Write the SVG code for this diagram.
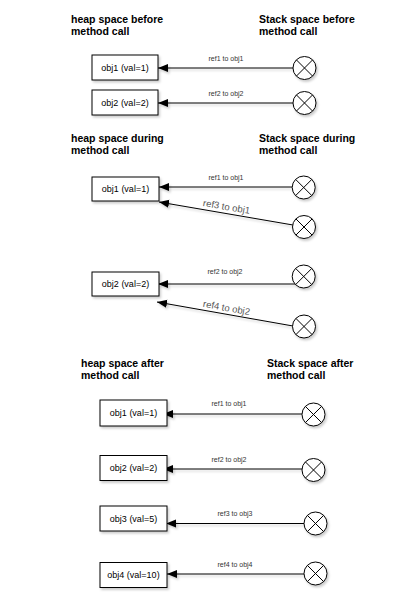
<svg xmlns="http://www.w3.org/2000/svg" width="414" height="600" viewBox="0 0 414 600">
<style>
.title{font-family:"Liberation Sans",Arial,sans-serif;font-size:10.5px;font-weight:bold;fill:#000}
.box rect{fill:#fff;stroke:#000;stroke-width:1}
.box text{font-family:"Liberation Sans",Arial,sans-serif;font-size:9px;fill:#000;text-anchor:middle}
.ref circle{fill:#fff;stroke:#000;stroke-width:1}
.ref path{stroke:#000;stroke-width:1;fill:none}
.conn line{stroke:#000;stroke-width:1;marker-end:url(#arr)}
.lbl{font-family:"Liberation Sans",Arial,sans-serif;font-size:7px;fill:#333;text-anchor:middle}
.rlbl{font-family:"Liberation Sans",Arial,sans-serif;font-size:9.5px;fill:#555;text-anchor:middle}
</style>
<defs>
<marker id="arr" markerUnits="userSpaceOnUse" markerWidth="11" markerHeight="9" refX="10" refY="4" orient="auto">
<path d="M0,0 L10,4 L0,8 z" fill="#000"/>
</marker>
<filter id="sh" x="-20%" y="-20%" width="140%" height="160%">
<feDropShadow dx="1.5" dy="2" stdDeviation="1" flood-color="#000" flood-opacity="0.2"/>
</filter>
</defs>

<!-- titles -->
<text class="title" x="71" y="23">heap space before</text>
<text class="title" x="71" y="35">method call</text>
<text class="title" x="259" y="23">Stack space before</text>
<text class="title" x="259" y="35">method call</text>

<text class="title" x="71" y="142">heap space during</text>
<text class="title" x="71" y="154">method call</text>
<text class="title" x="259" y="142">Stack space during</text>
<text class="title" x="259" y="154">method call</text>

<text class="title" x="81" y="367">heap space after</text>
<text class="title" x="81" y="379">method call</text>
<text class="title" x="267" y="367">Stack space after</text>
<text class="title" x="267" y="379">method call</text>

<!-- connectors -->
<g id="connectors" class="conn" filter="url(#sh)">
<line x1="293" y1="68" x2="158" y2="68"/>
<line x1="293" y1="103" x2="158" y2="103"/>
<line x1="292" y1="187" x2="159" y2="187"/>
<line x1="293" y1="225" x2="159" y2="202"/>
<line x1="295" y1="284" x2="158" y2="284"/>
<line x1="293" y1="326" x2="157" y2="302"/>
<line x1="302" y1="414" x2="163" y2="414"/>
<line x1="302" y1="469" x2="163" y2="469"/>
<line x1="304" y1="523.5" x2="166" y2="523.5"/>
<line x1="304" y1="574" x2="167" y2="574"/>
</g>
<g id="connector-labels">
<text class="lbl" x="226" y="61">ref1 to obj1</text>
<text class="lbl" x="226" y="96">ref2 to obj2</text>
<text class="lbl" x="226" y="180">ref1 to obj1</text>
<text class="rlbl" transform="translate(226,210) rotate(9.7)">ref3 to obj1</text>
<text class="lbl" x="225" y="274">ref2 to obj2</text>
<text class="rlbl" transform="translate(226,311) rotate(10)">ref4 to obj2</text>
<text class="lbl" x="229" y="406">ref1 to obj1</text>
<text class="lbl" x="229" y="462">ref2 to obj2</text>
<text class="lbl" x="235" y="516">ref3 to obj3</text>
<text class="lbl" x="235" y="567">ref4 to obj4</text>
</g>

<!-- heap object nodes -->
<g id="before-obj1" class="box"><rect x="92" y="55" width="66" height="25" filter="url(#sh)"/><text x="125" y="71">obj1 (val=1)</text></g>
<g id="before-obj2" class="box"><rect x="92" y="90" width="66" height="25" filter="url(#sh)"/><text x="125" y="106">obj2 (val=2)</text></g>
<g id="during-obj1" class="box"><rect x="92" y="177" width="67" height="24" filter="url(#sh)"/><text x="125.5" y="192">obj1 (val=1)</text></g>
<g id="during-obj2" class="box"><rect x="92" y="272" width="67" height="24" filter="url(#sh)"/><text x="125.5" y="287">obj2 (val=2)</text></g>
<g id="after-obj1" class="box"><rect x="100" y="400" width="67" height="26" filter="url(#sh)"/><text x="133.5" y="416">obj1 (val=1)</text></g>
<g id="after-obj2" class="box"><rect x="100" y="455.5" width="67" height="25" filter="url(#sh)"/><text x="133.5" y="471">obj2 (val=2)</text></g>
<g id="after-obj3" class="box"><rect x="100" y="506" width="67" height="25" filter="url(#sh)"/><text x="133.5" y="521.5">obj3 (val=5)</text></g>
<g id="after-obj4" class="box"><rect x="100" y="562.5" width="67" height="25" filter="url(#sh)"/><text x="133.5" y="578">obj4 (val=10)</text></g>

<!-- stack reference nodes -->
<g id="before-ref1" class="ref" transform="translate(304.5,68)"><circle r="11.5" filter="url(#sh)"/><path d="M-8.1,-8.1L8.1,8.1M8.1,-8.1L-8.1,8.1"/></g>
<g id="before-ref2" class="ref" transform="translate(304.5,103)"><circle r="11.5" filter="url(#sh)"/><path d="M-8.1,-8.1L8.1,8.1M8.1,-8.1L-8.1,8.1"/></g>
<g id="during-ref1" class="ref" transform="translate(303.7,187.5)"><circle r="11.5" filter="url(#sh)"/><path d="M-8.1,-8.1L8.1,8.1M8.1,-8.1L-8.1,8.1"/></g>
<g id="during-ref3" class="ref" transform="translate(304,227)"><circle r="11.5" filter="url(#sh)"/><path d="M-8.1,-8.1L8.1,8.1M8.1,-8.1L-8.1,8.1"/></g>
<g id="during-ref2" class="ref" transform="translate(303.7,276.5)"><circle r="11.5" filter="url(#sh)"/><path d="M-8.1,-8.1L8.1,8.1M8.1,-8.1L-8.1,8.1"/></g>
<g id="during-ref4" class="ref" transform="translate(304,326.5)"><circle r="11.5" filter="url(#sh)"/><path d="M-8.1,-8.1L8.1,8.1M8.1,-8.1L-8.1,8.1"/></g>
<g id="after-ref1" class="ref" transform="translate(313.5,414.5)"><circle r="11.5" filter="url(#sh)"/><path d="M-8.1,-8.1L8.1,8.1M8.1,-8.1L-8.1,8.1"/></g>
<g id="after-ref2" class="ref" transform="translate(313.5,470)"><circle r="11.5" filter="url(#sh)"/><path d="M-8.1,-8.1L8.1,8.1M8.1,-8.1L-8.1,8.1"/></g>
<g id="after-ref3" class="ref" transform="translate(315.5,523.5)"><circle r="11.5" filter="url(#sh)"/><path d="M-8.1,-8.1L8.1,8.1M8.1,-8.1L-8.1,8.1"/></g>
<g id="after-ref4" class="ref" transform="translate(315.5,573.5)"><circle r="11.5" filter="url(#sh)"/><path d="M-8.1,-8.1L8.1,8.1M8.1,-8.1L-8.1,8.1"/></g>
</svg>
